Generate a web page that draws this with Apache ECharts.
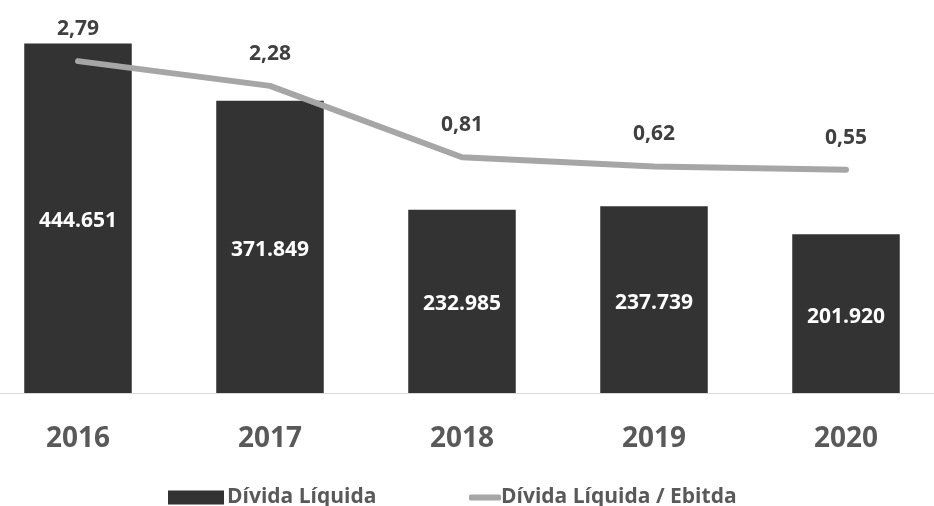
<!DOCTYPE html>
<html>
<head>
<meta charset="utf-8">
<script src="https://cdn.jsdelivr.net/npm/echarts@6/dist/echarts.min.js"></script>
<style>
  html, body { margin: 0; padding: 0; background: #fff; overflow: hidden; }
  /* o gráfico original começa um pouco fora da borda esquerda */
  #chart { width: 960px; height: 506px; margin-left: -18px; }
</style>
</head>
<body>
<div id="chart"></div>
<script>
// dados
const anos = ['2016', '2017', '2018', '2019', '2020'];
const dividaLiquida = [444651, 371849, 232985, 237739, 201920];
const dividaEbitda = [2.79, 2.28, 0.81, 0.62, 0.55];
const nomeBarra = 'Dívida Líquida';
const nomeLinha = 'Dívida Líquida / Ebitda';

const fonte = '"Open Sans", sans-serif';
const dx = 18; // deslocamento do div

let option = {
  backgroundColor: '#fff',
  animation: false,
  textStyle: { fontFamily: fonte },
  grid: {
    top: 0,
    bottom: 113,
    left: 0,
    right: 0
  },
  legend: [
    {
      data: [{ name: nomeBarra, icon: 'rect' }],
      left: 163 + dx,
      top: 482,
      itemWidth: 56,
      itemHeight: 14,
      textStyle: { color: '#595959', fontSize: 21, fontWeight: 'bold', fontFamily: fonte, padding: [0, 0, 0, -2] }
    },
    {
      data: [{ name: nomeLinha, icon: 'roundRect', itemStyle: { color: '#a6a6a6' } }],
      left: 464 + dx,
      top: 482,
      itemWidth: 32,
      itemHeight: 6,
      textStyle: { color: '#595959', fontSize: 21, fontWeight: 'bold', fontFamily: fonte, padding: [0, 0, 0, -5] }
    }
  ],
  xAxis: [
    {
      type: 'category',
      data: anos,
      axisTick: { show: false },
      axisLine: { show: true, lineStyle: { color: '#d9d9d9', width: 1 } },
      axisLabel: {
        color: '#595959',
        fontSize: 28,
        fontWeight: 'bold',
        fontFamily: fonte,
        margin: 32
      }
    }
  ],
  yAxis: [
    {
      type: 'value',
      min: 0,
      max: 500000,
      show: false,
      splitLine: { show: false }
    },
    {
      type: 'value',
      min: -4.05,
      max: 4.05,
      show: false,
      splitLine: { show: false }
    }
  ],
  series: [
    {
      name: nomeBarra,
      type: 'bar',
      barWidth: '56%',
      data: dividaLiquida,
      itemStyle: { color: '#333333' },
      label: {
        show: true,
        position: 'inside',
        offset: [0, 3],
        color: '#fff',
        fontSize: 21,
        fontWeight: 'bold',
        fontFamily: fonte,
        formatter: function (p) {
          return p.value.toLocaleString('de-DE');
        }
      }
    },
    {
      name: nomeLinha,
      type: 'line',
      yAxisIndex: 1,
      data: dividaEbitda,
      symbol: 'circle',
      symbolSize: 1,
      showSymbol: true,
      lineStyle: { color: '#a6a6a6', width: 6, cap: 'round' },
      itemStyle: { color: '#a6a6a6' },
      label: {
        show: true,
        position: 'top',
        distance: 21,
        color: '#404040',
        fontSize: 21,
        fontWeight: 'bold',
        fontFamily: fonte,
        formatter: function (p) {
          return p.value.toFixed(2).replace('.', ',');
        }
      }
    }
  ]
};

let grafico = echarts.init(document.getElementById('chart'));
grafico.setOption(option);
</script>
</body>
</html>
